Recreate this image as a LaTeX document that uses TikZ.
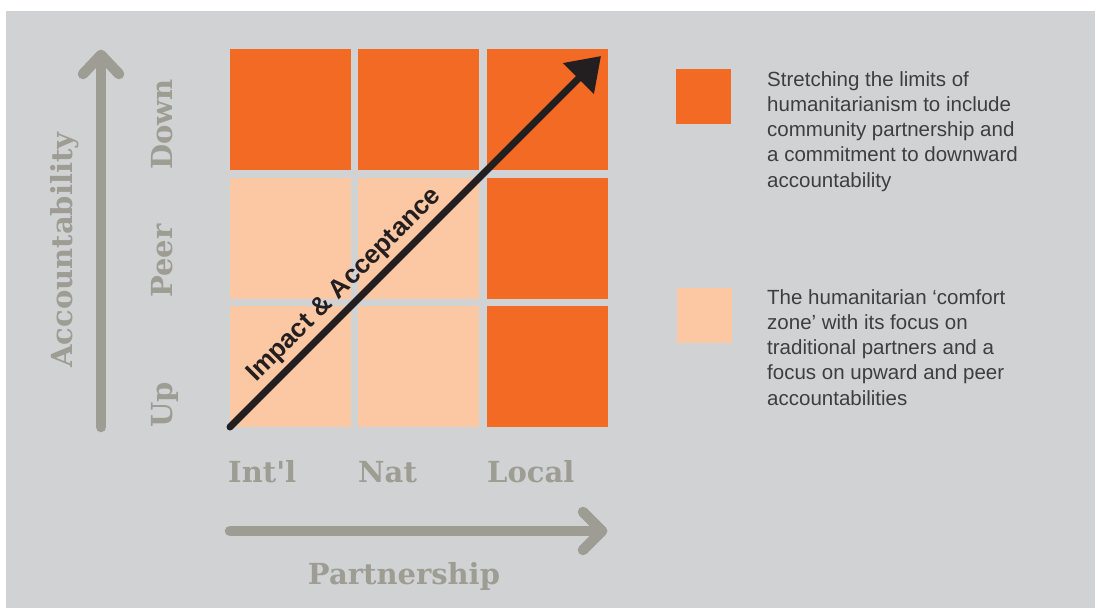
\documentclass[tikz,border=0pt]{standalone}
\usepackage{fontspec}
\setmainfont{Liberation Sans}
\newfontfamily\slabfont{DejaVu Serif}
\usetikzlibrary{arrows.meta}

\definecolor{bgpanel}{RGB}{209,210,212}
\definecolor{hotorange}{RGB}{242,106,36}
\definecolor{peach}{RGB}{252,200,164}
\definecolor{axisgray}{RGB}{157,157,147}
\definecolor{inkdark}{RGB}{35,31,32}
\definecolor{bodytext}{RGB}{62,62,62}

\tikzset{
  cell/.style={inner sep=0pt, outer sep=0pt, minimum width=121pt, minimum height=121pt},
  hot/.style={cell, fill=hotorange},
  calm/.style={cell, fill=peach},
  keybox/.style={inner sep=0pt, outer sep=0pt, minimum width=55pt, minimum height=55pt},
  axisline/.style={draw=axisgray, line width=10.5pt, line cap=round, line join=round},
  axislabel/.style={text=axisgray, inner sep=0pt, font={\slabfont\bfseries\fontsize{29}{29}\selectfont}},
  legendtext/.style={text=bodytext, inner sep=0pt, anchor=north west, align=left,
    font={\fontsize{20.5}{25.3}\selectfont}},
  impact/.style={draw=inkdark, line width=7pt, line cap=round,
    -{Triangle[length=32pt, width=42pt]}},
  impactlabel/.style={text=inkdark, inner sep=0pt, font={\bfseries\fontsize{26}{26}\selectfont}},
}

\begin{document}
\begin{tikzpicture}[x=1pt, y=-1pt]
  % canvas and grey panel
  \useasboundingbox (0,0) rectangle (1095,608);
  \fill[white] (0,0) rectangle (1095,608);
  \fill[bgpanel] (6,11) rectangle (1095,608);

  % 3x3 matrix: columns Int'l / Nat / Local, rows Down / Peer / Up
  \node[hot]  (c11) at (290.5,109.5) {};
  \node[hot]  (c12) at (418.5,109.5) {};
  \node[hot]  (c13) at (547.5,109.5) {};
  \node[calm] (c21) at (290.5,238.5) {};
  \node[calm] (c22) at (418.5,238.5) {};
  \node[hot]  (c23) at (547.5,238.5) {};
  \node[calm] (c31) at (290.5,366.5) {};
  \node[calm] (c32) at (418.5,366.5) {};
  \node[hot]  (c33) at (547.5,366.5) {};

  % vertical axis: accountability
  \coordinate (acc-foot)  at (101,427);
  \coordinate (acc-tip)   at (101,55);
  \coordinate (acc-barbL) at (83,74);
  \coordinate (acc-barbR) at (119,74);
  \draw[axisline] (acc-foot) -- (acc-tip);
  \draw[axisline] (acc-barbL) -- (acc-tip) -- (acc-barbR);
  \node[axislabel, rotate=90, anchor=base] (acc-label) at (72,250) {Accountability};

  \node[axislabel, rotate=90, anchor=base west] (row-down) at (172,170) {Down};
  \node[axislabel, rotate=90, anchor=base west] (row-peer) at (172,298) {Peer};
  \node[axislabel, rotate=90, anchor=base west] (row-up)   at (172,428) {Up};

  % horizontal axis: partnership
  \node[axislabel, anchor=base west] (col-intl)  at (228,482) {Int'l};
  \node[axislabel, anchor=base west] (col-nat)   at (358,482) {Nat};
  \node[axislabel, anchor=base west] (col-local) at (487,482) {Local};

  \coordinate (par-foot)  at (230,531);
  \coordinate (par-tip)   at (602,531);
  \coordinate (par-barbU) at (583,512);
  \coordinate (par-barbD) at (583,550);
  \draw[axisline] (par-foot) -- (par-tip);
  \draw[axisline] (par-barbU) -- (par-tip) -- (par-barbD);
  \node[axislabel, anchor=base] (par-label) at (404,584) {Partnership};

  % diagonal: impact & acceptance
  \coordinate (ia-start) at (230,427);
  \coordinate (ia-end)   at (601,56);
  \draw[impact] (ia-start) -- (ia-end);
  \node[impactlabel, rotate=45, anchor=base] (ia-label) at (349,290) {Impact \& Acceptance};

  % legend
  \node[keybox, fill=hotorange] (key-hot)  at (703.5,96.5) {};
  \node[legendtext] (key-hot-text) at (767,71)
    {Stretching the limits of\\humanitarianism to include\\community partnership and\\a commitment to downward\\accountability};
  \node[keybox, fill=peach] (key-calm) at (704,315.5) {};
  \node[legendtext] (key-calm-text) at (767,289)
    {The humanitarian ‘comfort\\zone’ with its focus on\\traditional partners and a\\focus on upward and peer\\accountabilities};
\end{tikzpicture}
\end{document}
